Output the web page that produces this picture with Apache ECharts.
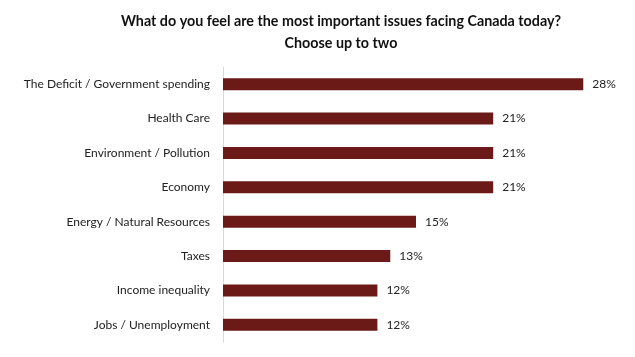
<!DOCTYPE html>
<html><head><meta charset="utf-8">
<script src="https://cdn.jsdelivr.net/npm/echarts@6/dist/echarts.min.js"></script>
<style>html,body{margin:0;padding:0;background:#fff}#c{width:635px;height:357px}</style>
</head><body><div id="c"></div>
<script>
const categories = ["The Deficit / Government spending","Health Care","Environment / Pollution","Economy","Energy / Natural Resources","Taxes","Income inequality","Jobs / Unemployment"];
const values = [28,21,21,21,15,13,12,12];
const chart = echarts.init(document.getElementById('c'));
chart.setOption({
  animation:false,
  title:{text:"What do you feel are the most important issues facing Canada today?\nChoose up to two",left:336,top:5,textAlign:'center',
    textStyle:{fontFamily:'Lato',fontWeight:'bold',fontSize:14.3,color:'#111',lineHeight:22}},
  grid:{left:223,right:26,top:67,bottom:15},
  xAxis:{type:'value',min:0,max:30,show:false},
  yAxis:{type:'category',inverse:true,data:categories,
    axisLine:{show:true,lineStyle:{color:'#d9d9d9',width:1}},axisTick:{show:false},
    axisLabel:{fontFamily:'Lato',fontSize:12,color:'#222',margin:13}},
  series:[{type:'bar',data:values,barWidth:12,itemStyle:{color:'#6b1a17'},
    label:{show:true,position:'right',distance:9,formatter:'{c}%',fontFamily:'Lato',fontSize:12,color:'#222'}}]
});
</script></body></html>
